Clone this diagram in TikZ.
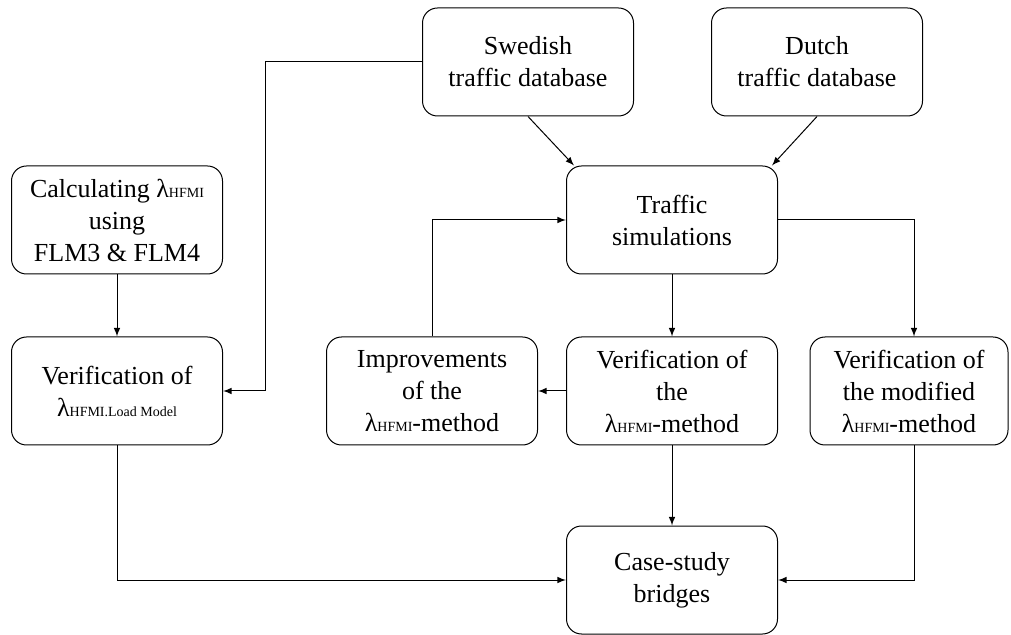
\documentclass[tikz,border=0pt]{standalone}
\usepackage{fontspec}
\setmainfont{Liberation Serif}
\usepackage{tikz}
\newcommand{\lhfmi}[1]{%
	λ{\fontsize{7}{8}\selectfont #1}%
}

\begin{document}
\begin{tikzpicture}[x=0.5pt,y=-0.5pt,
		box/.style={draw,line width=0.5pt,rounded corners=7.5pt,align=center,
			minimum width=105.5pt,minimum height=54pt,inner sep=2pt,
			font=\fontsize{13}{16}\selectfont},
		line/.style={line width=0.5pt,-latex}]
		\useasboundingbox (0,0) rectangle (1011,635);
		\node[box] (swed) at (528,62) {Swedish\\traffic database};
		\node[box] (dutch) at (817,62) {Dutch\\traffic database};
		\node[box] (traffic) at (672,220) {Traffic\\simulations};
		\node[box] (calc) at (117,220) {Calculating \lhfmi{HFMI}\\using\\FLM3 \& FLM4};
		\node[box] (verlm) at (117,391) {Verification of\\\lhfmi{HFMI.Load Model}};
		\node[box] (impr) at (432,391) {Improvements\\of the\\\lhfmi{HFMI}-method};
		\node[box] (vermeth) at (672,391) {Verification of\\the\\\lhfmi{HFMI}-method};
		\node[box,minimum width=99pt] (vermod) at (909,391) {Verification of\\the modified\\\lhfmi{HFMI}-method};
		\node[box] (case) at (672,580) {Case-study\\bridges};
		\draw[line] (swed.south) -- ([xshift=4pt]traffic.north west);
		\draw[line] (dutch.south) -- ([xshift=-3pt]traffic.north east);
		\draw[line] (swed.west) -- ++(-157,0) |- (verlm.east);
		\draw[line] (calc.south) -- (verlm.north);
		\draw[line] (traffic.south) -- (vermeth.north);
		\draw[line] (traffic.east) -| ([xshift=2.5pt]vermod.north);
		\draw[line] (vermeth.west) -- (impr.east);
		\draw[line] (impr.north) |- (traffic.west);
		\draw[line] (vermeth.south) -- (case.north);
		\draw[line] (verlm.south) |- (case.west);
		\draw[line] ([xshift=2.5pt]vermod.south) |- (case.east);
	\end{tikzpicture}
\end{document}
